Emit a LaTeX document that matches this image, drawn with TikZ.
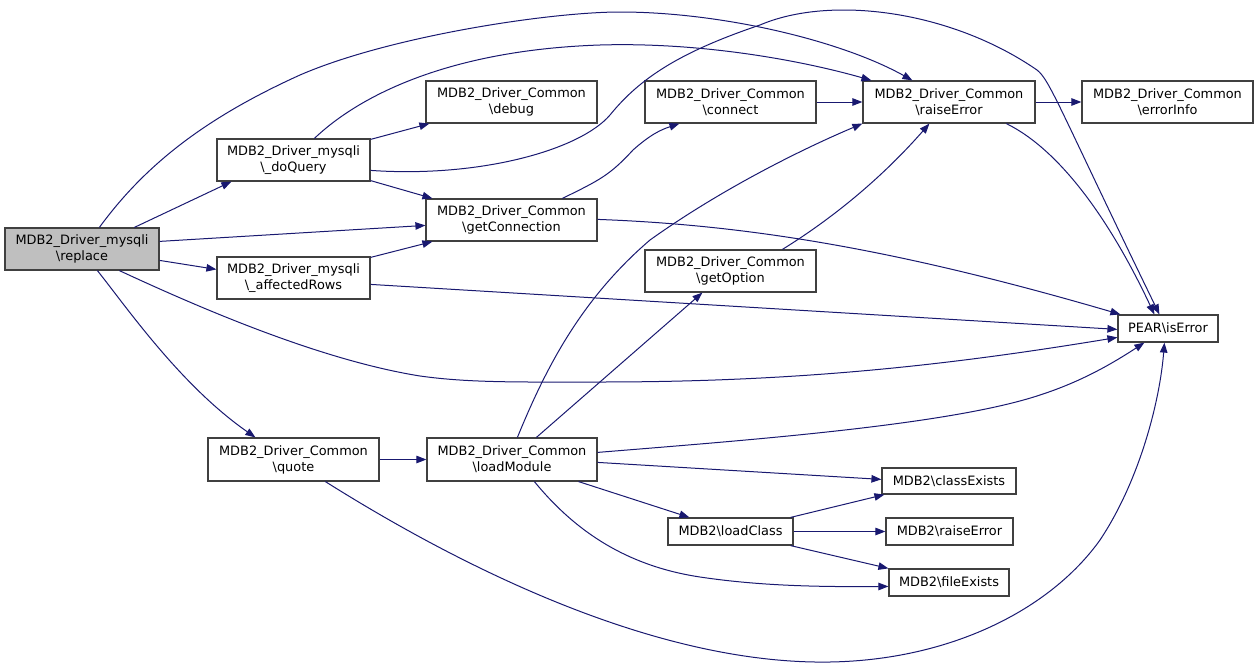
\documentclass[tikz,border=0pt]{standalone}
\usepackage{fontspec}
\setmainfont{DejaVu Sans}
\usetikzlibrary{arrows.meta,calc}
\definecolor{edgec}{HTML}{191970}
\definecolor{boxline}{HTML}{404040}
\definecolor{hl}{HTML}{BFBFBF}
\newcommand{\bsl}{\textbackslash}
\tikzset{
  fn/.style={draw=boxline, line width=1.2pt, fill=white, inner sep=0pt, align=center,
    font=\fontsize{12.9}{16}\selectfont, text=black, minimum height=42pt, minimum width=171pt},
  small/.style={minimum height=27pt},
  call/.style={draw=edgec, line width=1pt, -{Triangle[length=10pt,width=7.5pt]}}
}
\begin{document}
\begin{tikzpicture}[x=1pt,y=-1pt]
\useasboundingbox (0,0) rectangle (1259,667);
% nodes
\node[fn, fill=hl, minimum width=154pt] (replace) at (82,249) {MDB2\_Driver\_mysqli\\\bsl replace};
\node[fn, minimum width=153pt] (doQuery) at (293.5,160) {MDB2\_Driver\_mysqli\\\bsl\_doQuery};
\node[fn, minimum width=153pt] (affectedRows) at (293.5,278) {MDB2\_Driver\_mysqli\\\bsl\_affectedRows};
\node[fn] (debug) at (511.5,102) {MDB2\_Driver\_Common\\\bsl debug};
\node[fn] (getConnection) at (511.5,220) {MDB2\_Driver\_Common\\\bsl getConnection};
\node[fn] (connect) at (730.5,102) {MDB2\_Driver\_Common\\\bsl connect};
\node[fn] (getOption) at (730.5,271) {MDB2\_Driver\_Common\\\bsl getOption};
\node[fn, minimum width=172pt] (raiseErrorC) at (949,102) {MDB2\_Driver\_Common\\\bsl raiseError};
\node[fn] (errorInfo) at (1167.5,102) {MDB2\_Driver\_Common\\\bsl errorInfo};
\node[fn, small, minimum width=100pt] (isError) at (1168,328.5) {PEAR\bsl isError};
\node[fn, minimum height=43pt] (quote) at (293.5,459.5) {MDB2\_Driver\_Common\\\bsl quote};
\node[fn, minimum height=43pt, minimum width=170pt] (loadModule) at (512,459.5) {MDB2\_Driver\_Common\\\bsl loadModule};
\node[fn, minimum height=26pt, minimum width=134pt] (classExists) at (949,481) {MDB2\bsl classExists};
\node[fn, small, minimum width=125pt] (loadClass) at (730.5,531.5) {MDB2\bsl loadClass};
\node[fn, small, minimum width=127pt] (raiseError2) at (949.5,531.5) {MDB2\bsl raiseError};
\node[fn, small, minimum width=120pt] (fileExists) at (949,582.5) {MDB2\bsl fileExists};
% edges from replace
\draw[call] ($(replace.north west)+(130,0)$) -- ($(doQuery.south west)+(15,0)$);
\draw[call] ($(replace.north west)+(95,0)$) .. controls (145,165) and (205,118) .. (300,75)
  .. controls (390,36) and (550,12) .. (620,12) .. controls (720,12) and (840,40) .. ($(raiseErrorC.north west)+(50,0)$);
\draw[call] ($(replace.north east)+(0,14)$) -- ($(getConnection.north west)+(0,27)$);
\draw[call] ($(replace.north east)+(0,33)$) -- ($(affectedRows.north west)+(0,13)$);
\draw[call] ($(replace.south west)+(115,0)$) .. controls (200,308) and (320,360) .. (420,376)
  .. controls (470,383) and (520,382) .. (600,382) .. controls (800,382) and (950,365) .. ($(isError.north west)+(0,23)$);
\draw[call] ($(replace.south west)+(93,0)$) .. controls (125,305) and (180,385) .. ($(quote.north west)+(48,0)$);
% doQuery
\draw[call] ($(doQuery.north east)+(0,1)$) -- ($(debug.south west)+(4,0)$);
\draw[call] ($(doQuery.south east)+(0,-1)$) -- ($(getConnection.north west)+(7,0)$);
\draw[call] ($(doQuery.north west)+(98,0)$) .. controls (360,95) and (450,50) .. (600,45)
  .. controls (700,42) and (800,60) .. ($(raiseErrorC.north west)+(9,0)$);
\draw[call] ($(doQuery.north east)+(0,32)$) .. controls (480,178) and (580,150) .. (610,115)
  .. controls (640,78) and (680,52) .. (760,25) .. controls (830,-5) and (950,10) .. (1037,70)
  .. controls (1050,80) and (1060,110) .. ($(isError.north west)+(42,0)$);
% affectedRows
\draw[call] ($(affectedRows.north east)+(0,1)$) -- ($(getConnection.south west)+(7,0)$);
\draw[call] ($(affectedRows.north east)+(0,28)$) -- ($(isError.north west)+(0,15)$);
% getConnection
\draw[call] ($(getConnection.north west)+(137,0)$) .. controls (600,180) and (610,175) .. (633,150)
  .. controls (650,135) and (660,130) .. ($(connect.south west)+(35,0)$);
\draw[call] ($(getConnection.north east)+(0,21)$) .. controls (750,225) and (900,250) .. ($(isError.north west)+(3,0)$);
% connect, raiseError
\draw[call] (connect.east) -- (raiseErrorC.west);
\draw[call] (raiseErrorC.east) -- (errorInfo.west);
\draw[call] ($(raiseErrorC.south west)+(144,0)$) .. controls (1060,150) and (1110,220) .. ($(isError.north west)+(37,0)$);
% getOption
\draw[call] ($(getOption.north west)+(138,0)$) .. controls (830,220) and (880,180) .. ($(raiseErrorC.south west)+(67,0)$);
% quote
\draw[call] (quote.east) -- (loadModule.west);
\draw[call] ($(quote.south west)+(118,0)$) .. controls (450,560) and (650,665) .. (830,662)
  .. controls (950,660) and (1050,610) .. (1100,540) .. controls (1140,480) and (1160,400) .. ($(isError.south west)+(47,0)$);
% loadModule
\draw[call] ($(loadModule.north west)+(91,0)$) .. controls (545,370) and (580,300) .. (650,240)
  .. controls (720,190) and (800,150) .. (raiseErrorC.south west);
\draw[call] ($(loadModule.north west)+(110,0)$) -- ($(getOption.south west)+(58,0)$);
\draw[call] ($(loadModule.north east)+(0,15)$) .. controls (750,440) and (950,425) .. (1040,395)
  .. controls (1080,382) and (1110,365) .. ($(isError.south west)+(27,0)$);
\draw[call] ($(loadModule.north east)+(0,25)$) -- ($(classExists.north west)+(0,12)$);
\draw[call] ($(loadModule.south east)+(-19,0)$) -- ($(loadClass.north west)+(22,0)$);
\draw[call] ($(loadModule.south west)+(108,0)$) .. controls (570,525) and (620,565) .. (700,577)
  .. controls (760,586) and (820,587) .. ($(fileExists.north west)+(0,18)$);
% loadClass
\draw[call] ($(loadClass.north east)+(-3,0)$) -- ($(classExists.south west)+(3,0)$);
\draw[call] (loadClass.east) -- (raiseError2.west);
\draw[call] ($(loadClass.south east)+(-3,0)$) -- (fileExists.north west);
\end{tikzpicture}
\end{document}
